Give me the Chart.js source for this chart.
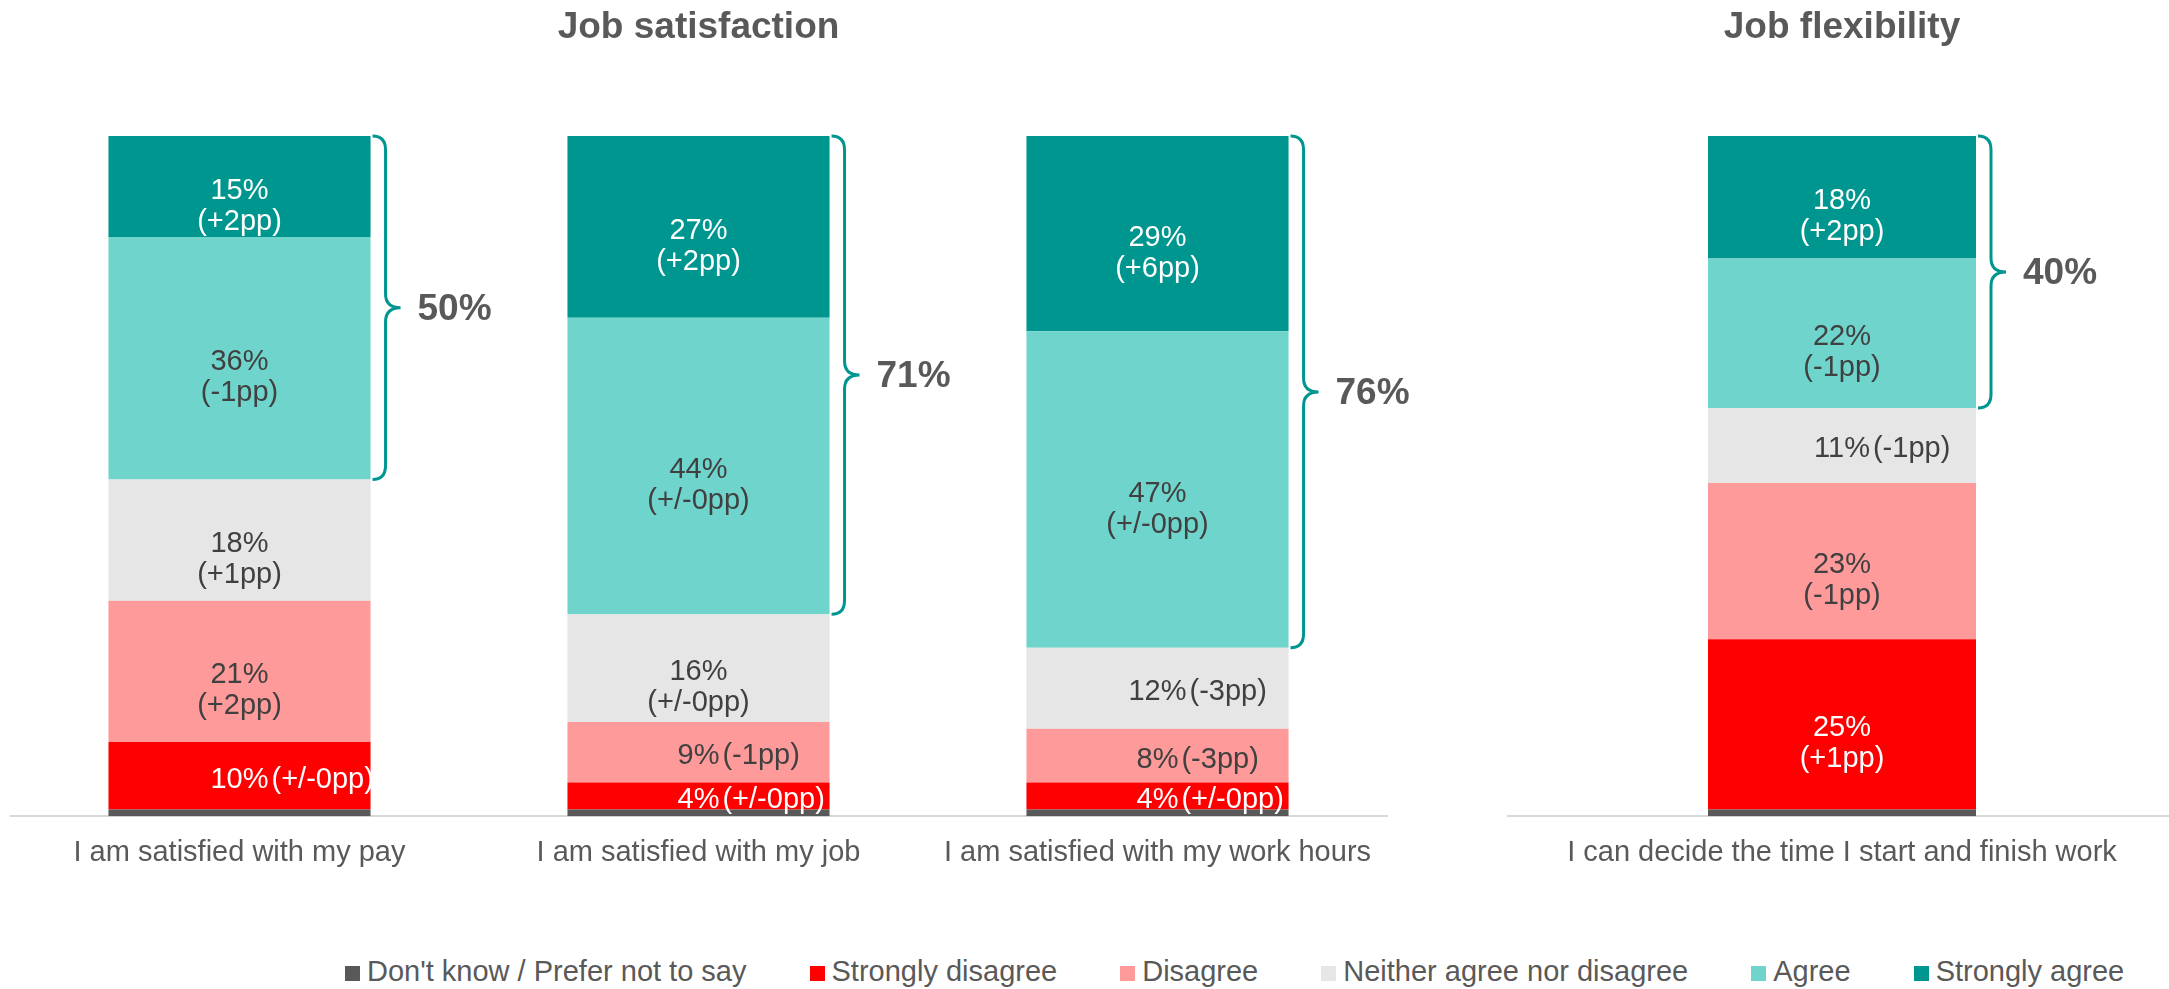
<!DOCTYPE html>
<html lang="en">
<head>
    <script src="https://cdn.jsdelivr.net/npm/chart.js@4.4.0/dist/chart.umd.min.js"></script>
    <meta charset="UTF-8">
    <title>Job satisfaction and flexibility</title>
    <style>
        body { margin: 0; background: #fff; overflow: hidden; }
        #satisfaction { position: absolute; left: 10px; top: 0; }
        #flexibility { position: absolute; left: 1507px; top: 0; }
        #legend {
            position: absolute; left: 345px; top: 954px;
            font: 29px 'Liberation Sans', Arial, sans-serif;
            color: #595959; line-height: 34px; white-space: nowrap;
        }
        #legend .item { margin-right: 63px; }
        #legend i { display: inline-block; width: 15px; height: 15px; margin-right: 7px; }
    </style>
</head>
<body>
<canvas id="satisfaction" width="1437" height="889"></canvas>
<canvas id="flexibility" width="670" height="889"></canvas>
<div id="legend"></div>

<script>
    // statements: first three are job satisfaction, last one is job flexibility
    const statements = ['I am satisfied with my pay', 'I am satisfied with my job',
        'I am satisfied with my work hours', 'I can decide the time I start and finish work'];
    const seriesNames = ["Don't know / Prefer not to say", 'Strongly disagree', 'Disagree',
        'Neither agree nor disagree', 'Agree', 'Strongly agree'];

    // shares in %, one value per statement
    const dontKnow = [1, 1, 1, 1];
    const stronglyDisagree = [10, 4, 4, 25];
    const disagree = [21, 9, 8, 23];
    const neither = [18, 16, 12, 11];
    const agree = [36, 44, 47, 22];
    const stronglyAgree = [15, 27, 29, 18];

    // change against previous wave
    const stronglyDisagreeChange = ['+/-0pp', '+/-0pp', '+/-0pp', '+1pp'];
    const disagreeChange = ['+2pp', '-1pp', '-3pp', '-1pp'];
    const neitherChange = ['+1pp', '+/-0pp', '-3pp', '-1pp'];
    const agreeChange = ['-1pp', '+/-0pp', '+/-0pp', '-1pp'];
    const stronglyAgreeChange = ['+2pp', '+2pp', '+6pp', '+2pp'];

    // agree + strongly agree
    const netAgree = [50, 71, 76, 40];

    const seriesColors = ['#595959', '#ff0000', '#ff9a9a', '#e6e6e6', '#6fd5cc', '#009690'];
    const labelColors = [null, '#ffffff', '#404040', '#404040', '#404040', '#ffffff'];
    const FONT = "'Liberation Sans', Arial, sans-serif";

    const allValues = [dontKnow, stronglyDisagree, disagree, neither, agree, stronglyAgree];
    const allChanges = [null, stronglyDisagreeChange, disagreeChange, neitherChange, agreeChange, stronglyAgreeChange];

    // percentage in the middle of each segment, change below it (or beside it on thin segments)
    const segmentLabels = {
        id: 'segmentLabels',
        afterDatasetsDraw(chart) {
            const ctx = chart.ctx;
            ctx.save();
            ctx.font = '29px ' + FONT;
            ctx.textBaseline = 'middle';
            chart.data.datasets.forEach((ds, i) => {
                if (!ds.changes) return;
                chart.getDatasetMeta(i).data.forEach((bar, j) => {
                    const value = ds.data[j];
                    const pct = value + '%';
                    const change = '(' + ds.changes[j] + ')';
                    const cy = (bar.y + bar.base) / 2 + 4;
                    ctx.fillStyle = ds.labelColor;
                    if (value <= 12) {
                        const w = ctx.measureText(pct).width;
                        ctx.textAlign = 'left';
                        ctx.fillText(pct, bar.x - w / 2, cy);
                        ctx.fillText(change, bar.x + w / 2 + 3, cy);
                    } else {
                        ctx.textAlign = 'center';
                        ctx.fillText(pct, bar.x, cy);
                        ctx.fillText(change, bar.x, cy + 31);
                    }
                });
            });
            ctx.restore();
        }
    };

    // curly brace around agree + strongly agree with the net share
    const braces = {
        id: 'braces',
        afterDatasetsDraw(chart, args, opts) {
            const ctx = chart.ctx;
            const upper = chart.getDatasetMeta(5).data;
            const lower = chart.getDatasetMeta(4).data;
            ctx.save();
            ctx.strokeStyle = '#009690';
            ctx.lineWidth = 3;
            ctx.fillStyle = '#595959';
            ctx.font = 'bold 37px ' + FONT;
            ctx.textAlign = 'left';
            ctx.textBaseline = 'middle';
            opts.totals.forEach((total, j) => {
                const x0 = upper[j].x + upper[j].width / 2 + 2;
                const y0 = upper[j].y;
                const y1 = lower[j].base;
                const mid = (y0 + y1) / 2;
                const xl = x0 + 13, xt = x0 + 28, r = 14;
                ctx.beginPath();
                ctx.moveTo(x0, y0);
                ctx.quadraticCurveTo(xl, y0, xl, y0 + r);
                ctx.lineTo(xl, mid - r);
                ctx.quadraticCurveTo(xl, mid, xt, mid);
                ctx.quadraticCurveTo(xl, mid, xl, mid + r);
                ctx.lineTo(xl, y1 - r);
                ctx.quadraticCurveTo(xl, y1, x0, y1);
                ctx.stroke();
                ctx.fillText(total + '%', xt + 17, mid + 2);
            });
            ctx.restore();
        }
    };

    function makeChart(id, title, from, to, yMax, barPct, padRight) {
        const datasets = seriesNames.map((name, i) => ({
            label: name,
            data: allValues[i].slice(from, to),
            changes: allChanges[i] ? allChanges[i].slice(from, to) : null,
            labelColor: labelColors[i],
            backgroundColor: seriesColors[i],
            borderWidth: 0,
            barPercentage: barPct,
            categoryPercentage: 1
        }));

        return new Chart(document.getElementById(id), {
            type: 'bar',
            data: { labels: statements.slice(from, to), datasets: datasets },
            plugins: [segmentLabels, braces],
            options: {
                responsive: false,
                animation: false,
                layout: { padding: { right: padRight } },
                plugins: {
                    legend: { display: false },
                    tooltip: { enabled: false },
                    title: {
                        display: true,
                        text: title,
                        color: '#595959',
                        font: { family: FONT, size: 37, weight: 'bold' },
                        padding: { top: 6, bottom: 85.6 }
                    },
                    braces: { totals: netAgree.slice(from, to) }
                },
                scales: {
                    x: {
                        stacked: true,
                        grid: { display: false, drawTicks: false },
                        border: { display: true, color: '#d9d9d9', width: 2 },
                        ticks: {
                            color: '#595959',
                            font: { family: FONT, size: 29 },
                            padding: 19,
                            maxRotation: 0,
                            autoSkip: false
                        }
                    },
                    y: { stacked: true, display: false, min: 0, max: yMax }
                }
            }
        });
    }

    makeChart('satisfaction', 'Job satisfaction', 0, 3, 101, 0.571, 60);
    makeChart('flexibility', 'Job flexibility', 3, 4, 100, 0.4, 0);

    const legend = document.getElementById('legend');
    seriesNames.forEach((name, i) => {
        const item = document.createElement('span');
        item.className = 'item';
        const box = document.createElement('i');
        box.style.background = seriesColors[i];
        item.appendChild(box);
        item.appendChild(document.createTextNode(name));
        legend.appendChild(item);
    });
</script>
</body>
</html>
